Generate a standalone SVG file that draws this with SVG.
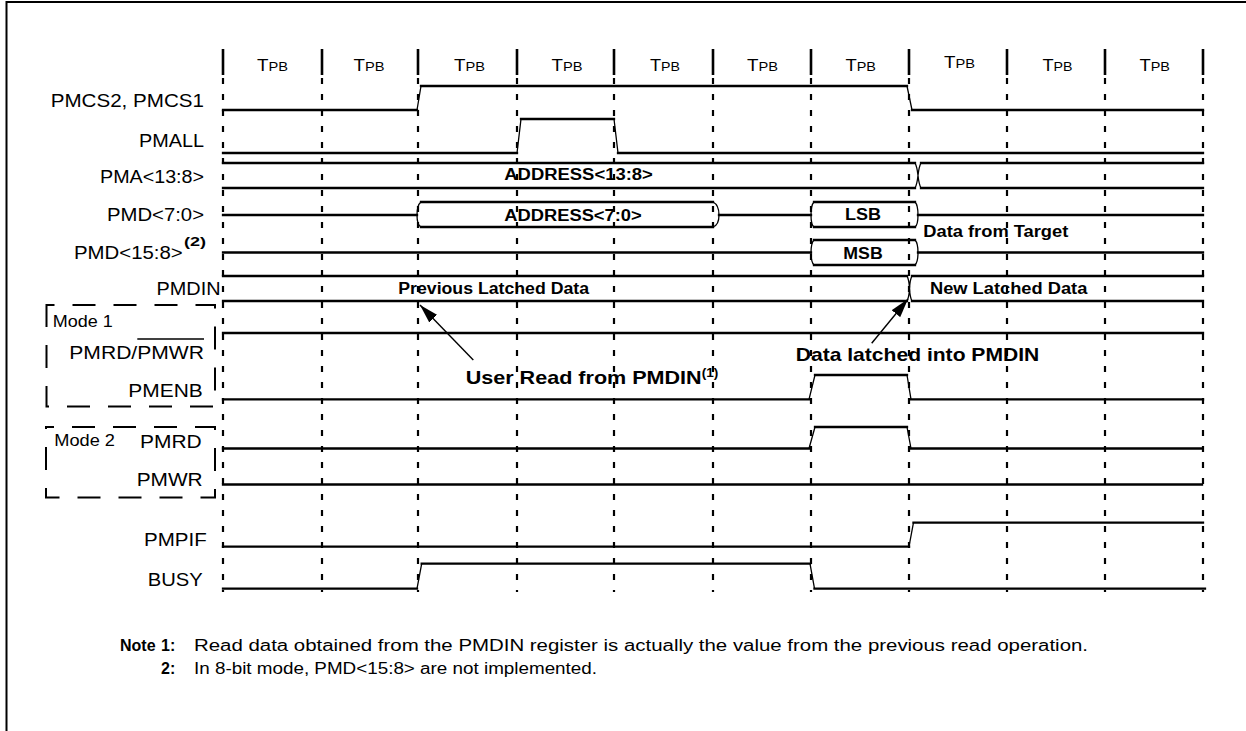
<svg xmlns="http://www.w3.org/2000/svg" width="1246" height="731" viewBox="0 0 1246 731">
<defs>
<style>
text{font-family:"Liberation Sans",Arial,sans-serif;fill:#000}
.lbl{font-size:18px}
.b{font-weight:bold;font-size:16px}
.big{font-weight:bold;font-size:19px}
.sup{font-weight:bold;font-size:12.5px}
.mode{font-size:16px}
.tpb{font-size:16px}
.tpb tspan{font-size:12.5px}
.note{font-size:16px}
.w{fill:none;stroke:#000;stroke-width:2.3;stroke-linecap:square}
.e{fill:none;stroke:#000;stroke-width:1.3}
.hdr{stroke:#000;stroke-width:2.6}
.grid{stroke:#000;stroke-width:2.2;stroke-dasharray:6 10}
.box{fill:none;stroke:#000;stroke-width:2;stroke-dasharray:23 18;stroke-dashoffset:15}
.arr{stroke:#000;stroke-width:1.4;fill:none}
</style>
<marker id="ah" markerWidth="19" markerHeight="11" refX="19" refY="5.5" orient="auto" markerUnits="userSpaceOnUse">
<path d="M0,0 L19,5.5 L0,11 Z" fill="#000"/>
</marker>
</defs>
<rect x="0" y="0" width="1246" height="731" fill="#fff"/>
<g id="frame"><path d="M6.5,731 V2 H1246" fill="none" stroke="#000" stroke-width="2"/></g>

<g id="grid">
<path class="hdr" d="M223,49V75 M322,49V75 M418,49V75 M517,49V75 M614,49V75 M713,49V75 M811,49V75 M909,49V75 M1007,49V75 M1105,49V75 M1203,49V75"/>
<path class="grid" d="M223,78V592 M322,78V592 M418,78V592 M517,78V592 M614,78V592 M713,78V592 M811,78V592 M909,78V592 M1007,78V592 M1105,78V592 M1203,78V592"/>
<text class="tpb" x="257" y="70.5" textLength="31" lengthAdjust="spacingAndGlyphs">T<tspan>PB</tspan></text>
<text class="tpb" x="353.5" y="70.5" textLength="31" lengthAdjust="spacingAndGlyphs">T<tspan>PB</tspan></text>
<text class="tpb" x="454" y="70.5" textLength="31" lengthAdjust="spacingAndGlyphs">T<tspan>PB</tspan></text>
<text class="tpb" x="551.5" y="70.5" textLength="31" lengthAdjust="spacingAndGlyphs">T<tspan>PB</tspan></text>
<text class="tpb" x="650" y="70.5" textLength="30" lengthAdjust="spacingAndGlyphs">T<tspan>PB</tspan></text>
<text class="tpb" x="747" y="70.5" textLength="31" lengthAdjust="spacingAndGlyphs">T<tspan>PB</tspan></text>
<text class="tpb" x="845.5" y="70.5" textLength="30.5" lengthAdjust="spacingAndGlyphs">T<tspan>PB</tspan></text>
<text class="tpb" x="944" y="68" textLength="31" lengthAdjust="spacingAndGlyphs">T<tspan>PB</tspan></text>
<text class="tpb" x="1042.5" y="70.5" textLength="30" lengthAdjust="spacingAndGlyphs">T<tspan>PB</tspan></text>
<text class="tpb" x="1139.5" y="70.5" textLength="30.5" lengthAdjust="spacingAndGlyphs">T<tspan>PB</tspan></text>
</g>

<g id="pmcs">
<text class="lbl" x="50.7" y="107" textLength="153.3" lengthAdjust="spacingAndGlyphs">PMCS2, PMCS1</text>
<path class="w" d="M223,110H417 M421,86H907 M912,110H1203"/>
<path class="e" d="M417,110L421,86 M907,86L912,110"/>
</g>

<g id="pmall">
<text class="lbl" x="139" y="147" textLength="65" lengthAdjust="spacingAndGlyphs">PMALL</text>
<path class="w" d="M223,153H517 M521,119H614 M618,153H1203"/>
<path class="e" d="M517,153L521,119 M614,119L618,153"/>
</g>

<g id="pma">
<text class="lbl" x="100" y="182.5" textLength="104" lengthAdjust="spacingAndGlyphs">PMA&lt;13:8&gt;</text>
<path class="w" d="M223,163H915 M223,188H915 M921,163H1203 M921,188H1203"/>
<path class="e" d="M915,163C919,170 917,181 921,188 M915,188C919,181 917,170 921,163"/>
<text class="b" x="504.3" y="180.3" textLength="148.5" lengthAdjust="spacingAndGlyphs">ADDRESS&lt;13:8&gt;</text>
</g>

<g id="pmd70">
<text class="lbl" x="107" y="220.7" textLength="97" lengthAdjust="spacingAndGlyphs">PMD&lt;7:0&gt;</text>
<path class="w" d="M223,215H417 M421,202H713 M421,227H713 M719,215H811 M814,202H915 M814,227H915 M918,215H1203"/>
<path class="e" d="M421,202Q417,205 417,215Q417,225 421,227 M713,202Q719,205 719,215Q719,225 713,227 M814,202Q811,205 811,215Q811,225 814,227 M915,202Q918,205 918,215Q918,225 915,227"/>
<text class="b" x="504.3" y="220.7" textLength="137.4" lengthAdjust="spacingAndGlyphs">ADDRESS&lt;7:0&gt;</text>
<text class="b" x="845" y="220.3" textLength="36" lengthAdjust="spacingAndGlyphs">LSB</text>
<text class="b" x="923.3" y="237.3" textLength="145" lengthAdjust="spacingAndGlyphs">Data from Target</text>
</g>

<g id="pmd158">
<text class="lbl" x="74" y="259" textLength="108.7" lengthAdjust="spacingAndGlyphs">PMD&lt;15:8&gt;</text>
<text class="sup" x="184" y="246" textLength="22" lengthAdjust="spacingAndGlyphs">(2)</text>
<path class="w" d="M223,252.5H811 M814,240H915 M814,265H915 M918,252.5H1203"/>
<path class="e" d="M814,240Q811,243 811,252.5Q811,262 814,265 M915,240Q918,243 918,252.5Q918,262 915,265"/>
<text class="b" x="843.3" y="259" textLength="39.4" lengthAdjust="spacingAndGlyphs">MSB</text>
</g>

<g id="pmdin">
<text class="lbl" x="156.5" y="295" textLength="64" lengthAdjust="spacingAndGlyphs">PMDIN</text>
<path class="w" d="M223,276H907 M223,301H907 M912,276H1203 M912,301H1203"/>
<path class="e" d="M907,276C911,283 908,294 912,301 M907,301C911,294 908,283 912,276"/>
<text class="b" x="398.3" y="294" textLength="190.7" lengthAdjust="spacingAndGlyphs">Previous Latched Data</text>
<text class="b" x="930" y="294" textLength="157.3" lengthAdjust="spacingAndGlyphs">New Latched Data</text>
</g>

<g id="mode1">
<rect class="box" x="46.5" y="305" width="168.5" height="101.5"/>
<text class="mode" x="52.7" y="326.7" textLength="60" lengthAdjust="spacingAndGlyphs">Mode 1</text>
</g>

<g id="pmrdpmwr">
<text class="lbl" x="69.3" y="359" textLength="134.7" lengthAdjust="spacingAndGlyphs">PMRD/PMWR</text>
<path d="M137.3,339H204" stroke="#000" stroke-width="1.5"/>
<path class="w" d="M223,333H1203"/>
</g>

<g id="pmenb">
<text class="lbl" x="128.3" y="396.7" textLength="74.4" lengthAdjust="spacingAndGlyphs">PMENB</text>
<path class="w" d="M223,399.3H809 M815,375H907 M911,399.3H1203"/>
<path class="e" d="M809,399.3L815,375 M907,375L911,399.3"/>
</g>

<g id="mode2">
<rect class="box" x="46" y="427" width="169" height="70.5"/>
<text class="mode" x="54.3" y="446" textLength="60.7" lengthAdjust="spacingAndGlyphs">Mode 2</text>
</g>

<g id="pmrd">
<text class="lbl" x="140" y="447.7" textLength="61.7" lengthAdjust="spacingAndGlyphs">PMRD</text>
<path class="w" d="M223,448.5H809 M815,427H907 M911,448.5H1202"/>
<path class="e" d="M809,448.5L815,427 M907,427L911,448.5"/>
</g>

<g id="pmwr">
<text class="lbl" x="136.7" y="485.7" textLength="66" lengthAdjust="spacingAndGlyphs">PMWR</text>
<path class="w" d="M223,484.5H1202"/>
</g>

<g id="pmpif">
<text class="lbl" x="144" y="546" textLength="62.7" lengthAdjust="spacingAndGlyphs">PMPIF</text>
<path class="w" d="M223,546.7H909 M913.5,522.7H1203"/>
<path class="e" d="M909,546.7L913.5,522.7"/>
</g>

<g id="busy">
<text class="lbl" x="147.7" y="586" textLength="55" lengthAdjust="spacingAndGlyphs">BUSY</text>
<path class="w" d="M223,588.7H417 M421.7,563.7H810 M814.5,588.7H1205"/>
<path class="e" d="M417,588.7L421.7,563.7 M810,563.7L814.5,588.7"/>
</g>

<g id="connectors">
<path class="arr" d="M473.3,360L420,305" marker-end="url(#ah)"/>
<path class="arr" d="M871.7,343.3L908,299" marker-end="url(#ah)"/>
</g>

<g id="annotations">
<text class="big" x="465.7" y="384.3" textLength="236" lengthAdjust="spacingAndGlyphs">User Read from PMDIN</text>
<text class="sup" x="701.7" y="377" textLength="16.6" lengthAdjust="spacingAndGlyphs">(1)</text>
<text class="big" x="795.7" y="360.7" textLength="243.6" lengthAdjust="spacingAndGlyphs">Data latched into PMDIN</text>
</g>

<g id="notes">
<text class="note" x="120" y="651" font-weight="bold">Note</text>
<text class="note" x="161" y="651" font-weight="bold">1:</text>
<text class="note" x="194" y="651" textLength="894" lengthAdjust="spacingAndGlyphs">Read data obtained from the PMDIN register is actually the value from the previous read operation.</text>
<text class="note" x="161" y="674" font-weight="bold">2:</text>
<text class="note" x="194" y="674" textLength="403" lengthAdjust="spacingAndGlyphs">In 8-bit mode, PMD&lt;15:8&gt; are not implemented.</text>
</g>
</svg>
